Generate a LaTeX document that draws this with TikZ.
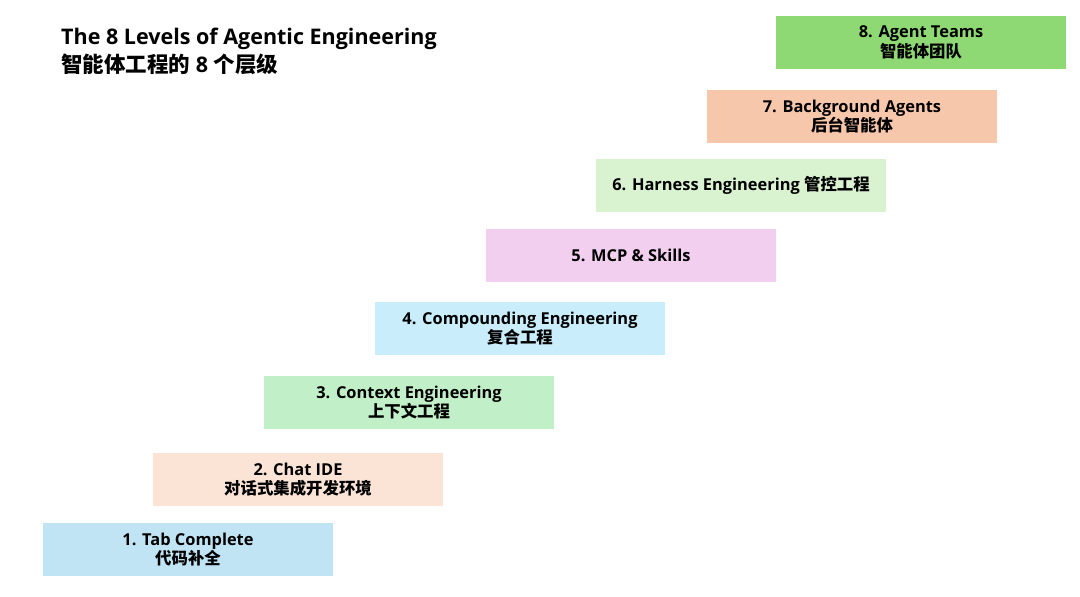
\documentclass[tikz,border=0pt]{standalone}
\usepackage{fontspec}
\setmainfont{Open Sans}
\newfontfamily\cjkfont{Noto Sans CJK SC}
\newcommand\zhtxt[1]{{\cjkfont\bfseries #1}}
\definecolor{cA}{HTML}{C1E4F5}
\definecolor{cB}{HTML}{FBE3D6}
\definecolor{cC}{HTML}{C1F0C8}
\definecolor{cD}{HTML}{CAEDFB}
\definecolor{cE}{HTML}{F2CEEF}
\definecolor{cF}{HTML}{D9F2D0}
\definecolor{cG}{HTML}{F7C7AC}
\definecolor{cH}{HTML}{8ED973}
\begin{document}
\begin{tikzpicture}[x=1pt,y=-1pt,
  lvl/.style={minimum width=290, minimum height=53, inner sep=0, align=center,
    font=\bfseries\fontsize{16.4}{19.5}\selectfont},
  ttl/.style={anchor=base west, inner sep=0, font=\bfseries\fontsize{21.5}{24}\selectfont}]
\useasboundingbox (0,0) rectangle (1080,597);
\node[ttl] (t1) at (61,45) {The 8 Levels of Agentic Engineering};
\node[ttl] (t2) at (61,72) {\zhtxt{智能体工程的} 8 \zhtxt{个层级}};
\node[lvl, fill=cA] (l1) at (188,549.5) {1. Tab Complete\\\zhtxt{代码补全}};
\node[lvl, fill=cB] (l2) at (298,479.5) {2. Chat IDE\\\zhtxt{对话式集成开发环境}};
\node[lvl, fill=cC] (l3) at (409,402.5) {3. Context Engineering\\\zhtxt{上下文工程}};
\node[lvl, fill=cD] (l4) at (520,328.5) {4. Compounding Engineering\\\zhtxt{复合工程}};
\node[lvl, fill=cE] (l5) at (631,255.5) {5. MCP \& Skills};
\node[lvl, fill=cF] (l6) at (741,185.5) {6. Harness Engineering \zhtxt{管控工程}};
\node[lvl, fill=cG] (l7) at (852,116.5) {7. Background Agents\\\zhtxt{后台智能体}};
\node[lvl, fill=cH] (l8) at (921,42.5) {8. Agent Teams\\\zhtxt{智能体团队}};
\end{tikzpicture}
\end{document}
